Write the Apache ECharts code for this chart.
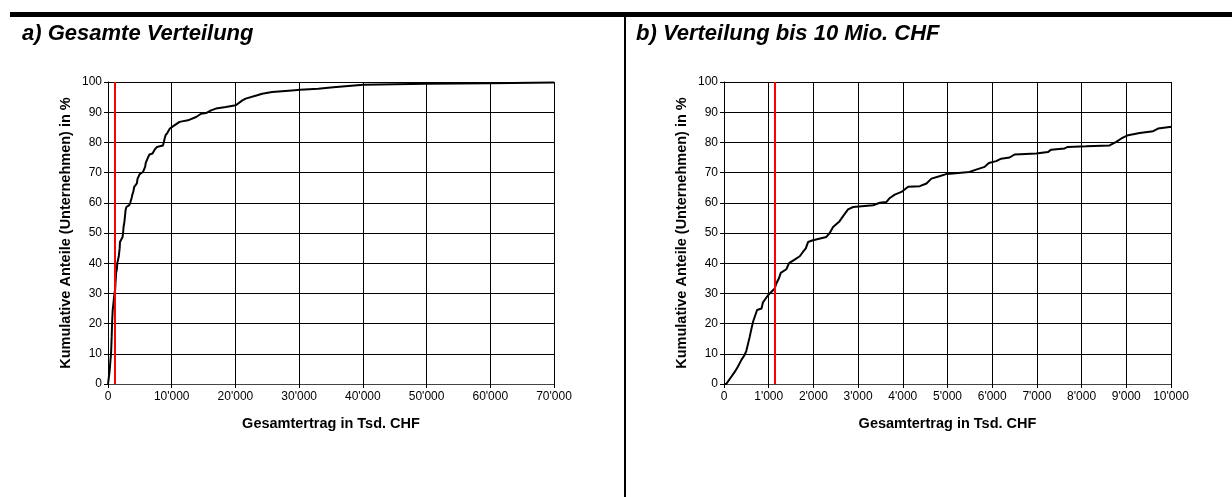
<!DOCTYPE html>
<html><head><meta charset="utf-8">
<script src="https://cdn.jsdelivr.net/npm/echarts@6/dist/echarts.min.js"></script>
<style>html,body{margin:0;padding:0;background:#fff}#c{width:1232px;height:497px}</style>
</head><body><div id="c"></div>
<script>
// Gesamtertrag in Tsd. CHF
const revenue = [0,50,240,310,390,460,500,575,610,650,740,840,870,985,1135,1170,1230,1270,1395,1455,1580,1695,1770,1830,1880,1990,2290,2365,2440,2575,2665,2775,2890,3335,3485,3635,3710,3820,3970,4120,4380,4530,4640,4670,4820,4970,5120,5490,5640,5830,5925,6090,6200,6390,6500,6985,7245,7320,7620,7690,8105,8625,8775,8890,9040,9300,9600,9710,9970,10470,11240,12540,13830,14610,15390,16170,16940,18500,20050,21090,21610,23420,24200,25750,28860,30135,33000,35366,40070,50000,60000,70000];
// Kumulative Anteile in %
const cumShare = [0,0,4,5.7,8,9.6,11,15.6,18,20.6,24.5,25,27,29.4,31.6,33.3,35,36.8,38,40,41.2,42.3,43.8,44.9,47,47.6,48.7,50,52,53.7,55.6,57.8,58.6,59.2,60,60.3,61.6,62.7,63.6,65.3,65.5,66.4,68,68,68.8,69.5,69.7,70.2,71,71.9,73.2,73.8,74.6,75,76,76.3,76.8,77.6,78,78.5,78.7,79,80.2,81.3,82.4,83.1,83.7,84.6,85.1,85.7,86.8,87.3,88.4,89.5,89.7,90.6,91.2,91.7,92.3,93.9,94.5,95.6,96.1,96.7,97.2,97.4,97.8,98.3,99.1,99.4,99.6,99.8];
const markerValue = 1130;
const titles = ['a) Gesamte Verteilung', 'b) Verteilung bis 10 Mio. CHF'];
const xMax = [70000, 10000];
const xInterval = [10000, 1000];
const yTicks = [0,10,20,30,40,50,60,70,80,90,100];
const xTitle = 'Gesamtertrag in Tsd. CHF';
const yTitle = 'Kumulative Anteile (Unternehmen) in %';

const FONT = 'Liberation Sans, Arial, sans-serif';
const fmt = v => { const s = String(Math.round(v)); return s.length > 3 ? s.slice(0, -3) + "'" + s.slice(-3) : s; };
const pts = revenue.map((x, i) => [x, cumShare[i]]);
const grids = [{left:108, top:82, width:446, height:302}, {left:724, top:82, width:447, height:302}];

const chart = echarts.init(document.getElementById('c'), null, {renderer:'canvas'});
chart.setOption({
  animation:false,
  backgroundColor:'#fff',
  title: titles.map((t, i) => ({text:t, left: i ? 636 : 22, top: 23, padding:0,
    textStyle:{fontFamily:FONT, fontSize:22, fontWeight:'bold', fontStyle:'italic', color:'#000'}})),
  graphic:[
    {type:'rect', shape:{x:10, y:12, width:1222, height:5}, style:{fill:'#000'}},
    {type:'rect', shape:{x:624, y:12, width:2, height:485}, style:{fill:'#000'}}
  ],
  grid: grids,
  xAxis: [0,1].map(i => ({type:'value', gridIndex:i, min:0, max:xMax[i], interval:xInterval[i],
    name:xTitle, nameLocation:'middle', nameGap:32,
    nameTextStyle:{fontFamily:FONT, fontSize:14.5, fontWeight:'bold', color:'#000'},
    axisLine:{show:true, onZero:false, lineStyle:{color:'#444', width:1}},
    axisTick:{show:true, length:4, lineStyle:{color:'#000'}},
    axisLabel:{fontFamily:FONT, fontSize:12, color:'#000', margin:7, formatter:fmt},
    splitLine:{show:true, lineStyle:{color:'#000', width:1}}})),
  yAxis: [0,1].map(i => ({type:'value', gridIndex:i, min:yTicks[0], max:yTicks[yTicks.length-1], interval:10,
    name:yTitle, nameLocation:'middle', nameGap:35,
    nameTextStyle:{fontFamily:FONT, fontSize:14.5, fontWeight:'bold', color:'#000'},
    axisLine:{show:true, lineStyle:{color:'#000', width:1}},
    axisTick:{show:true, length:4, lineStyle:{color:'#000'}},
    axisLabel:{fontFamily:FONT, fontSize:12, color:'#000', margin:6},
    splitLine:{show:true, lineStyle:{color:'#000', width:1}}})),
  series: [0,1].map(i => ({type:'line', xAxisIndex:i, yAxisIndex:i, data:pts, showSymbol:false, symbol:'none',
    clip:true, lineStyle:{color:'#000', width:2}, z:3,
    markLine:{silent:true, symbol:'none', label:{show:false},
      lineStyle:{color:'#ff0000', width:2, type:'solid'},
      data:[{xAxis:markerValue}]}}))
});
</script></body></html>
